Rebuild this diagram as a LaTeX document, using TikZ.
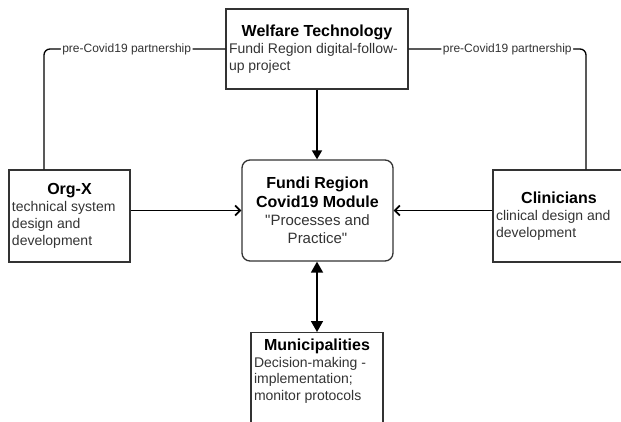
\documentclass[tikz,border=0pt]{standalone}
\usepackage{fontspec}
\setmainfont{Liberation Sans}
\newfontfamily\plainfont{Liberation Sans}
\usetikzlibrary{arrows.meta}
\definecolor{B}{RGB}{51,51,51}
\definecolor{T}{RGB}{51,51,51}
\newcommand{\titlefont}{\fontsize{16}{19}\selectfont\bfseries}
\newcommand{\bodyfont}{\fontsize{14}{16.8}\selectfont}
\newcommand{\boxtext}[5][c]{\parbox[c][#3][#1]{#2}{{\centering\titlefont #4\par}\raggedright\bodyfont\color{T}#5}}
\begin{document}
\begin{tikzpicture}[x=1pt,y=-1pt,
  unit/.style={draw=B,line width=1.3pt,inner xsep=3pt,inner ysep=0pt,text=black},
  flow/.style={line width=1.7pt},
  tie/.style={line width=1.3pt,rounded corners=6pt},
  tag/.style={fill=white,inner sep=1.5pt,font=\fontsize{12}{14}\selectfont,text=T}]
\useasboundingbox (0,0) rectangle (621,421);
\node[unit] (welfare) at (317,49) {\boxtext{176pt}{80pt}{Welfare Technology}{Fundi Region digital-follow-\\up project}};
\node[unit] (orgx) at (69.5,216) {\boxtext{115pt}{92pt}{Org-X}{technical system\\design and\\development}};
\node[unit] (clin) at (559,216) {\boxtext{126pt}{92pt}{Clinicians}{clinical design and\\development}};
\node[unit,rounded corners=8pt] (module) at (317.5,210.5) {\parbox[c][101pt][c]{145pt}{\centering{\titlefont Fundi Region\\Covid19 Module\par}\plainfont\fontsize{15}{18}\selectfont\color{T}"Processes and\\Practice"}};
\node[unit,anchor=north,inner ysep=6pt] (muni) at (317,332) {\boxtext[t]{126pt}{100pt}{Municipalities}{Decision-making -\\implementation;\\monitor protocols}};
\draw[flow,-{Triangle[length=9pt,width=10pt]}] (welfare.south) -- (welfare.south |- module.north);
\draw[flow,-{Straight Barb[length=5pt,width=10pt]}] (orgx.east |- module.west) -- (module.west);
\draw[flow,-{Straight Barb[length=5pt,width=10pt]}] (clin.west |- module.east) -- (module.east);
\draw[flow,{Triangle[length=11pt,width=12pt]}-{Triangle[length=11pt,width=12pt]}] (muni.north |- module.south) -- (muni.north);
\draw[tie] ([xshift=-25.5pt]orgx.north) |- (welfare.west) node[tag,pos=0.728] (tagl) {pre-Covid19 partnership};
\draw[tie] ([xshift=27pt]clin.north) |- (welfare.east) node[tag,pos=0.722] (tagr) {pre-Covid19 partnership};
\end{tikzpicture}
\end{document}
